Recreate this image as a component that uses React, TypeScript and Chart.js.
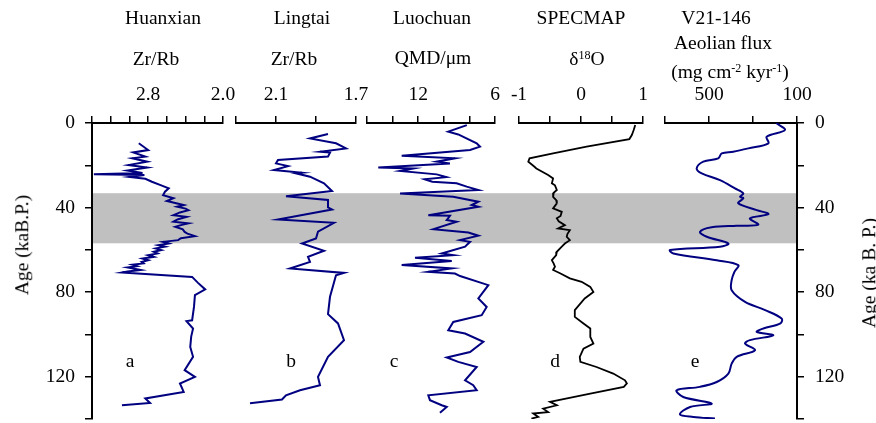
import React, { useEffect, useRef } from 'react';
import { Chart, registerables } from 'chart.js';

Chart.register(...registerables);

// ---------------- data ----------------
const ageTickValues = [0, 20, 40, 60, 80, 100, 120, 140];
const ageTickLabels = ['0', '', '40', '', '80', '', '120', ''];
const shadedBand = [33.2, 56.9];

const huanxianAge = [9.6, 12.8, 13.9, 15.9, 16.7, 18.3, 19.9, 21.1, 22.5, 23.6, 24.2, 24.6, 25.5, 26.4, 27.8, 29.5, 30.9, 32.5, 34.1, 35.6, 36.9, 38.0, 38.8, 39.6, 40.5, 41.2, 42.3, 43.6, 44.4, 45.5, 46.7, 47.5, 48.3, 49.1, 50.3, 51.5, 52.3, 53.5, 54.5, 55.4, 56.2, 57.0, 57.8, 58.5, 59.3, 60.1, 60.9, 61.7, 62.5, 63.3, 64.1, 64.9, 65.7, 66.4, 67.0, 67.7, 68.3, 68.8, 69.5, 70.2, 70.7, 72.8, 75.5, 78.7, 81.4, 87.0, 93.3, 93.7, 97.2, 101.0, 105.9, 110.6, 116.9, 120.1, 123.2, 127.2, 130.3, 132.4, 133.5];
const huanxianZrRb = [2.90, 2.80, 2.96, 2.83, 2.97, 2.81, 3.01, 2.81, 3.02, 2.86, 3.38, 2.84, 3.00, 2.83, 2.76, 2.66, 2.58, 2.62, 2.64, 2.53, 2.60, 2.50, 2.42, 2.49, 2.40, 2.37, 2.46, 2.53, 2.39, 2.48, 2.53, 2.37, 2.45, 2.51, 2.43, 2.41, 2.38, 2.30, 2.45, 2.48, 2.64, 2.58, 2.69, 2.62, 2.72, 2.66, 2.74, 2.70, 2.80, 2.74, 2.86, 2.80, 2.87, 2.85, 2.97, 2.92, 3.02, 2.96, 2.88, 3.02, 3.08, 2.33, 2.27, 2.19, 2.30, 2.31, 2.33, 2.39, 2.32, 2.34, 2.35, 2.32, 2.41, 2.30, 2.46, 2.42, 2.83, 2.78, 3.08];
const huanxianTicks = [2.0, 2.2, 2.4, 2.6, 2.8, 3.0, 3.2, 3.4];
const huanxianTickLabels = ['2.0', '', '', '', '2.8', '', '', ''];

const lingtaiAge = [5.2, 7.3, 9.6, 12.0, 13.6, 14.0, 15.9, 17.5, 19.1, 20.4, 22.2, 23.5, 23.8, 25.4, 28.5, 32.2, 34.6, 36.4, 39.9, 40.9, 45.6, 47.2, 51.4, 54.6, 57.0, 60.4, 63.3, 65.7, 68.8, 70.9, 72.0, 82.2, 90.4, 94.8, 102.7, 110.6, 120.1, 124.0, 126.4, 128.8, 130.8, 132.5];
const lingtaiZrRb = [1.84, 1.93, 1.80, 1.75, 1.88, 1.83, 1.84, 2.09, 2.10, 2.04, 2.11, 1.97, 2.00, 1.93, 1.86, 1.82, 2.05, 1.84, 1.84, 1.82, 2.09, 1.81, 1.89, 1.90, 1.97, 1.86, 1.94, 1.93, 2.03, 1.76, 1.80, 1.83, 1.84, 1.79, 1.76, 1.84, 1.89, 1.88, 1.98, 2.05, 2.07, 2.23];
const lingtaiTicks = [1.7, 1.9, 2.1, 2.3];
const lingtaiTickLabels = ['1.7', '', '2.1', ''];

const luochuanAge = [1.0, 4.1, 5.4, 9.6, 11.2, 12.8, 15.5, 16.7, 18.3, 19.1, 21.1, 21.5, 22.7, 24.3, 25.6, 26.6, 27.8, 28.5, 30.1, 31.7, 33.3, 34.9, 37.2, 38.8, 39.6, 43.6, 43.9, 45.9, 46.7, 50.2, 51.8, 53.3, 55.4, 56.2, 58.5, 61.7, 62.5, 63.7, 65.3, 67.2, 68.8, 70.4, 71.2, 72.4, 76.7, 83.0, 87.0, 90.9, 94.1, 98.0, 99.6, 103.5, 108.3, 110.9, 113.0, 115.4, 121.7, 124.0, 126.4, 128.8, 131.1, 133.5, 134.3, 137.1];
const luochuanQMD = [8.2, 9.65, 8.87, 7.43, 7.17, 7.95, 13.29, 9.13, 10.55, 9.52, 15.12, 12.38, 13.42, 10.55, 9.8, 11.5, 10.9, 9.0, 8.21, 7.3, 13.42, 9.26, 7.3, 7.82, 7.3, 11.21, 9.52, 9.77, 9.0, 10.81, 8.08, 7.3, 8.73, 7.95, 8.34, 10.16, 9.26, 12.25, 9.38, 13.29, 9.38, 11.21, 9.13, 8.73, 6.52, 7.30, 6.65, 7.04, 9.26, 9.65, 8.34, 6.91, 7.95, 9.77, 8.87, 7.43, 8.34, 7.7, 7.43, 11.21, 11.08, 10.16, 9.77, 10.3];
const luochuanTicks = [6, 8, 10, 12, 14, 16];
const luochuanTickLabels = ['6', '', '', '12', '', ''];

const specmapAge = [0.9, 3.3, 5.7, 7.6, 11.2, 14.4, 16.7, 18.3, 20.7, 21.5, 24.6, 26.2, 28.5, 29.5, 31.7, 33.0, 34.9, 36.5, 38.0, 40.4, 42.0, 44.0, 45.1, 46.5, 48.3, 49.9, 50.7, 52.5, 53.8, 55.4, 57.0, 58.5, 60.9, 62.5, 64.9, 66.5, 68.0, 69.5, 71.2, 73.5, 75.1, 77.5, 79.9, 83.0, 88.5, 91.7, 94.8, 97.2, 101.2, 104.3, 106.7, 110.6, 113.0, 115.4, 118.5, 121.7, 123.2, 124.8, 128.0, 131.9, 133.5, 135.1, 136.7, 137.4, 139.0, 139.8];
const specmapD18O = [0.875, 0.85, 0.82, 0.78, 0.09, -0.45, -0.83, -0.85, -0.75, -0.72, -0.53, -0.45, -0.47, -0.42, -0.39, -0.44, -0.45, -0.40, -0.39, -0.45, -0.31, -0.33, -0.39, -0.36, -0.26, -0.37, -0.18, -0.22, -0.23, -0.18, -0.26, -0.31, -0.39, -0.40, -0.47, -0.44, -0.42, -0.45, -0.33, -0.18, 0.01, 0.15, 0.20, 0.06, -0.10, -0.10, 0.04, 0.15, 0.15, 0.20, 0.04, -0.02, -0.01, 0.25, 0.52, 0.71, 0.74, 0.69, 0.15, -0.50, -0.39, -0.61, -0.53, -0.77, -0.69, -0.80];
const specmapTicks = [-1, -0.5, 0, 0.5, 1];
const specmapTickLabels = ['-1', '', '0', '', '1'];

const v21Age = [0.0, 3.3, 6.5, 9.6, 12.0, 13.6, 14.4, 16.7, 18.3, 21.5, 23.8, 27.0, 30.9, 33.3, 34.9, 35.6, 38.0, 41.2, 43.1, 45.1, 48.1, 48.6, 49.3, 51.5, 53.8, 57.0, 58.5, 60.1, 61.7, 64.9, 67.2, 70.5, 74.3, 79.1, 84.6, 88.5, 92.5, 94.8, 97.2, 98.8, 100.4, 102.7, 104.3, 107.5, 110.6, 113.8, 118.5, 122.5, 124.8, 126.4, 129.6, 132.7, 134.3, 137.8, 139.0, 139.8];
const v21Flux = [195, 155, 238, 230, 321, 390, 442, 458, 526, 556, 533, 450, 382, 344, 359, 344, 367, 283, 230, 314, 276, 374, 488, 541, 510, 412, 450, 677, 662, 465, 367, 385, 397, 397, 336, 245, 170, 175, 253, 283, 208, 314, 336, 291, 374, 397, 412, 465, 541, 647, 617, 488, 586, 632, 571, 473];
const v21Ticks = [100, 300, 500, 700];
const v21TickLabels = ['100', '', '500', ''];

// ---------------- layout / style ----------------
const W = 876;
const H = 423;
const PLOT_TOP = 123;
const PLOT_BOTTOM = 419;
const PLOT_LEFT = 92;
const PLOT_RIGHT = 797;
const AXIS_H = 40;
const FONT = '"Liberation Serif", "Times New Roman", serif';
const FS = 19.5;
const NAVY = '#000080';

type Panel = {
  id: string; left: number; right: number; reverse: boolean;
  ticks: number[]; labels: string[]; age: number[]; vals: number[];
  color: string; width: number; tension: number;
};

const PANELS: Panel[] = [
  { id: 'a', left: 92, right: 223, reverse: true, ticks: huanxianTicks, labels: huanxianTickLabels, age: huanxianAge, vals: huanxianZrRb, color: NAVY, width: 2, tension: 0 },
  { id: 'b', left: 236, right: 356, reverse: true, ticks: lingtaiTicks, labels: lingtaiTickLabels, age: lingtaiAge, vals: lingtaiZrRb, color: NAVY, width: 2, tension: 0 },
  { id: 'c', left: 367, right: 495, reverse: true, ticks: luochuanTicks, labels: luochuanTickLabels, age: luochuanAge, vals: luochuanQMD, color: NAVY, width: 2, tension: 0 },
  { id: 'd', left: 519, right: 643, reverse: false, ticks: specmapTicks, labels: specmapTickLabels, age: specmapAge, vals: specmapD18O, color: '#000', width: 1.8, tension: 0 },
  { id: 'e', left: 665, right: 797, reverse: true, ticks: v21Ticks, labels: v21TickLabels, age: v21Age, vals: v21Flux, color: NAVY, width: 2, tension: 0.35 },
];

const labelFor = (ticks: number[], labels: string[]) => (v: any) => {
  const k = ticks.findIndex((t) => Math.abs(t - Number(v)) < 1e-9);
  return k >= 0 ? labels[k] : '';
};

const bandPlugin = {
  id: 'band',
  beforeDraw(chart: any) {
    const { ctx, chartArea, scales } = chart;
    const y = scales.y;
    const t = y.getPixelForValue(shadedBand[0]);
    const b = y.getPixelForValue(shadedBand[1]);
    ctx.save();
    ctx.fillStyle = '#c0c0c0';
    ctx.fillRect(chartArea.left, t, chartArea.right - chartArea.left, b - t);
    ctx.restore();
  },
};

const yAxis = (position: 'left' | 'right', width: number, pad: number) => ({
  type: 'linear',
  position,
  min: 0,
  max: 140,
  reverse: true,
  afterFit: (s: any) => { s.width = width; s.paddingTop = 0; s.paddingBottom = 0; },
  afterBuildTicks: (s: any) => { s.ticks = ageTickValues.map((v) => ({ value: v })); },
  ticks: { callback: labelFor(ageTickValues, ageTickLabels), autoSkip: false, color: '#000', padding: pad, font: { family: FONT, size: FS } },
  grid: { drawOnChartArea: false, tickLength: 7, color: '#000', lineWidth: 1.5 },
  border: { display: true, color: '#000', width: 2 },
});

const Txt = ({ x, y, children, size = FS }: any) => (
  <div style={{ position: 'absolute', left: x, top: y - size * 0.8375, transform: 'translateX(-50%)', fontSize: size, lineHeight: 1, whiteSpace: 'nowrap', color: '#000', fontFamily: FONT }}>{children}</div>
);
const VTxt = ({ x, y, children }: any) => (
  <div style={{ position: 'absolute', left: x, top: y, transform: 'translate(-50%, -50%) rotate(-90deg)', fontSize: FS, lineHeight: 1, whiteSpace: 'nowrap', color: '#000', fontFamily: FONT }}>{children}</div>
);
const Sup = ({ children }: any) => (
  <span style={{ position: 'relative', top: '-0.45em', fontSize: '0.62em' }}>{children}</span>
);

export default function App() {
  const baseRef = useRef<HTMLCanvasElement | null>(null);
  const panelRefs = useRef<(HTMLCanvasElement | null)[]>([]);

  useEffect(() => {
    const charts: Chart[] = [];
    if (baseRef.current) {
      charts.push(new Chart(baseRef.current, {
        type: 'scatter',
        data: { datasets: [] },
        options: {
          animation: false, responsive: false, events: [],
          layout: { padding: { top: PLOT_TOP, bottom: H - PLOT_BOTTOM, left: 0, right: 0 } },
          plugins: { legend: { display: false }, tooltip: { enabled: false } },
          scales: {
            x: { type: 'linear', display: false, min: 0, max: 1 },
            y: yAxis('left', PLOT_LEFT, 10) as any,
            y2: yAxis('right', W - PLOT_RIGHT, 11) as any,
          },
        },
        plugins: [bandPlugin],
      } as any));
    }
    PANELS.forEach((p, i) => {
      const cv = panelRefs.current[i];
      if (!cv) return;
      charts.push(new Chart(cv, {
        type: 'scatter',
        data: {
          datasets: [{
            data: p.age.map((a, k) => ({ x: p.vals[k], y: a })),
            showLine: true, borderColor: p.color, borderWidth: p.width,
            pointRadius: 0, tension: p.tension, fill: false,
          }],
        },
        options: {
          animation: false, responsive: false, events: [],
          layout: { padding: { top: PLOT_TOP - AXIS_H, bottom: H - PLOT_BOTTOM, left: p.left, right: W - p.right } },
          plugins: { legend: { display: false }, tooltip: { enabled: false } },
          scales: {
            x: {
              type: 'linear', position: 'top',
              min: Math.min(...p.ticks), max: Math.max(...p.ticks), reverse: p.reverse,
              afterFit: (s: any) => { s.height = AXIS_H; },
              afterBuildTicks: (s: any) => { s.ticks = p.ticks.map((v) => ({ value: v })); },
              ticks: { callback: labelFor(p.ticks, p.labels), autoSkip: false, maxRotation: 0, color: '#000', padding: 9, font: { family: FONT, size: FS } },
              grid: { drawOnChartArea: false, tickLength: 7, color: '#000', lineWidth: 1.5 },
              border: { display: true, color: '#000', width: 2 },
            },
            y: { type: 'linear', display: false, min: 0, max: 140, reverse: true },
          },
        },
      } as any));
    });
    return () => charts.forEach((c) => c.destroy());
  }, []);

  const cvStyle: React.CSSProperties = { position: 'absolute', left: 0, top: 0, display: 'block' };

  return (
    <div style={{ position: 'absolute', left: 0, top: 0, width: W, height: H, background: '#fff', overflow: 'hidden', fontFamily: FONT }}>
      <canvas ref={baseRef} width={W} height={H} style={cvStyle} />
      {PANELS.map((p, i) => (
        <canvas key={p.id} ref={(el) => { panelRefs.current[i] = el; }} width={W} height={H} style={cvStyle} />
      ))}
      <Txt x={163} y={24}>Huanxian</Txt>
      <Txt x={302} y={24}>Lingtai</Txt>
      <Txt x={432} y={24}>Luochuan</Txt>
      <Txt x={581} y={24}>SPECMAP</Txt>
      <Txt x={716} y={24}>V21-146</Txt>
      <Txt x={156} y={65}>Zr/Rb</Txt>
      <Txt x={294} y={65}>Zr/Rb</Txt>
      <Txt x={433} y={64}>QMD/μm</Txt>
      <Txt x={587} y={65}>δ<Sup>18</Sup>O</Txt>
      <Txt x={723} y={49}>Aeolian flux</Txt>
      <Txt x={730} y={78}>(mg cm<Sup>-2</Sup> kyr<Sup>-1</Sup>)</Txt>
      <Txt x={130} y={367}>a</Txt>
      <Txt x={291} y={367}>b</Txt>
      <Txt x={394} y={367}>c</Txt>
      <Txt x={555} y={367}>d</Txt>
      <Txt x={695} y={367}>e</Txt>
      <VTxt x={22} y={245}>Age (kaB.P.)</VTxt>
      <VTxt x={869} y={273}>Age (ka B. P.)</VTxt>
    </div>
  );
}
